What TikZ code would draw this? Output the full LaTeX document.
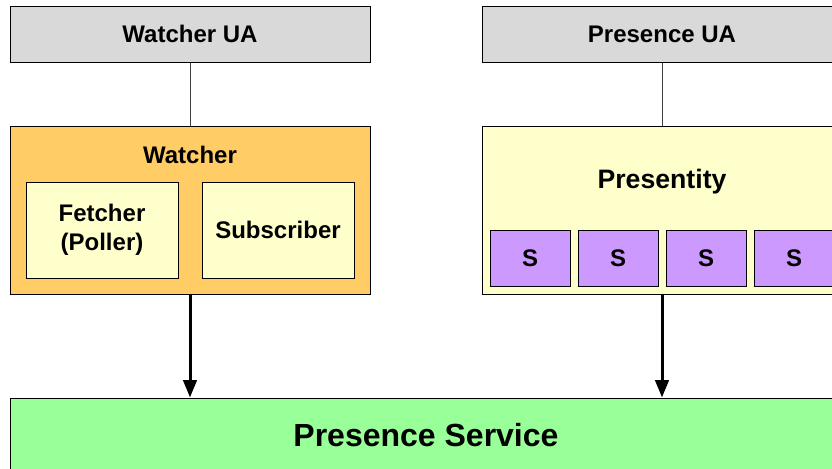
\documentclass[tikz,border=0pt]{standalone}
\usepackage{fontspec}
\setmainfont{Liberation Sans}
\usepackage{tikz}
\usetikzlibrary{positioning,arrows.meta}
\usepackage{xcolor}
\definecolor{uagray}{HTML}{D9D9D9}
\definecolor{watchorange}{HTML}{FFCC66}
\definecolor{paleyellow}{HTML}{FFFFCC}
\definecolor{lilac}{HTML}{CC99FF}
\definecolor{mint}{HTML}{99FF99}

\begin{document}
\begin{tikzpicture}[
    x=0.75pt, y=-0.75pt,
    box/.style={draw=black, line width=0.75pt, inner sep=0pt, align=center, font=\bfseries\fontsize{18}{22}\selectfont},
    uabox/.style={box, fill=uagray, minimum width=270pt, minimum height=42pt},
    outerbox/.style={box, minimum width=270pt, minimum height=126pt},
    innerbox/.style={box, fill=paleyellow, minimum width=114pt, minimum height=72pt},
    sbox/.style={box, fill=lilac, minimum width=60pt, minimum height=42pt},
    title/.style={inner sep=0pt, font=\bfseries\fontsize{18}{20}\selectfont},
    link/.style={draw=black!75, line width=0.75pt},
    flow/.style={draw=black, line width=2.25pt, -{Triangle[length=13pt, width=10pt]}}
]

    % Cornice dell'immagine (le scatole a destra e in basso sono tagliate)
    \useasboundingbox (0,0) rectangle (832,468);
    \clip (0,0) rectangle (832,468);

    % Lato sinistro: Watcher
    \node[uabox] (watcherua) at (190, 34) {Watcher UA};
    \node[outerbox, fill=watchorange] (watcher) at (190, 210) {};
    \node[title] (watchertitle) at (190, 155) {Watcher};
    \node[innerbox] (fetcher) at (102, 230) {Fetcher\\(Poller)};
    \node[innerbox] (subscriber) at (278, 230) {Subscriber};

    % Lato destro: Presentity
    \node[uabox] (presenceua) at (662, 34) {Presence UA};
    \node[outerbox, fill=paleyellow] (presentity) at (662, 210) {};
    \node[title, font=\bfseries\fontsize{20}{22}\selectfont] (presentitytitle) at (662, 182) {Presentity};
    \foreach \i/\x in {1/530, 2/618, 3/706, 4/794} {
        \node[sbox] (s\i) at (\x, 258) {S};
    }

    % Servizio in basso
    \node[box, fill=mint, minimum width=624pt, minimum height=55.5pt, font=\bfseries\fontsize{24}{28}\selectfont] (service) at (426, 435) {Presence Service};

    % Collegamenti
    \draw[link] (watcherua) -- (watcher);
    \draw[link] (presenceua) -- (presentity);
    \draw[flow] (watcher.south) -- (watcher.south |- service.north);
    \draw[flow] (presentity.south) -- (presentity.south |- service.north);

\end{tikzpicture}
\end{document}
